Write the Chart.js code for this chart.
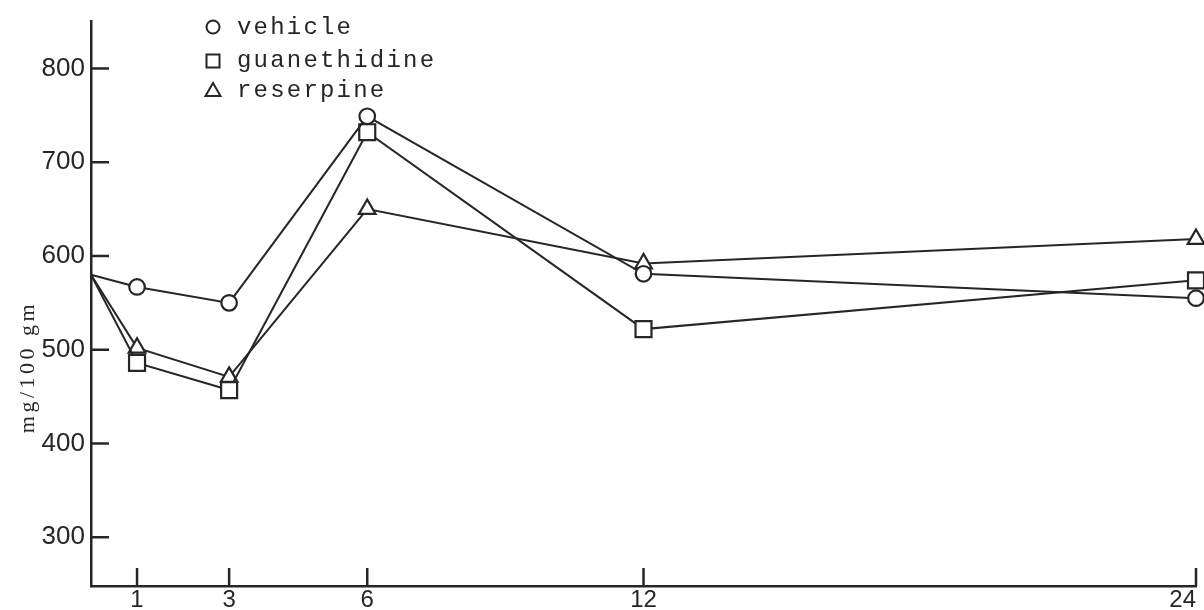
<!DOCTYPE html>
<html><head><meta charset="utf-8">
<script src="https://cdn.jsdelivr.net/npm/chart.js@4.4.1/dist/chart.umd.min.js"></script>
<style>html,body{margin:0;padding:0;background:#fff;} #wrap{width:1204px;height:610px;position:relative;}</style>
</head><body><div id="wrap"><canvas id="c" width="1204" height="610"></canvas></div>
<script>
// ---- data ----
const hours = [0, 1, 3, 6, 12, 24];
const vehicle = [580, 567, 550, 749, 581, 555];
const guanethidine = [580, 486, 457, 732, 522, 574];
const reserpine = [580, 502, 471, 650, 592, 618];
const seriesNames = ['vehicle', 'guanethidine', 'reserpine'];
const yTicks = [300, 400, 500, 600, 700, 800];
const xTicks = [0, 1, 3, 6, 12, 24];
const xTickLabels = ['', '1', '3', '6', '12', '24'];
const yTitle = 'mg/100 gm';

const INK = '#262626';
const pts = arr => hours.map((h, i) => ({x: h, y: arr[i]}));
const radii = r => hours.map((h, i) => i === 0 ? 0 : r);

function ds(label, arr, style, r) {
  return {
    label, data: pts(arr), borderColor: INK, borderWidth: 2,
    pointStyle: style, pointRadius: radii(r), pointHoverRadius: radii(r),
    pointBorderWidth: 2.2, pointBackgroundColor: '#fff', pointBorderColor: INK,
    fill: false, tension: 0, clip: false
  };
}

const decor = {
  id: 'decor',
  beforeDraw(chart) {
    const ctx = chart.ctx;
    ctx.save(); ctx.fillStyle = '#fff'; ctx.fillRect(0, 0, chart.width, chart.height); ctx.restore();
  },
  afterDraw(chart) {
    const ctx = chart.ctx, xs = chart.scales.x, ys = chart.scales.y;
    ctx.save();
    ctx.strokeStyle = INK; ctx.lineWidth = 2.5;
    // inside tick marks
    yTicks.forEach(v => {
      const py = ys.getPixelForValue(v);
      ctx.beginPath(); ctx.moveTo(xs.left, py); ctx.lineTo(xs.left + 18, py); ctx.stroke();
    });
    xTicks.forEach((v, i) => {
      if (!xTickLabels[i]) return;
      const px = xs.getPixelForValue(v);
      ctx.beginPath(); ctx.moveTo(px, ys.bottom); ctx.lineTo(px, ys.bottom - 18); ctx.stroke();
    });
    // legend
    const lx = 213, rows = [27, 61, 90], base = [34, 67, 97];
    ctx.lineWidth = 2; ctx.fillStyle = INK;
    ctx.font = '24px "Liberation Mono", monospace';
    ctx.letterSpacing = '2.2px';
    ctx.textBaseline = 'alphabetic'; ctx.textAlign = 'left';
    seriesNames.forEach((name, i) => {
      const cy = rows[i];
      ctx.beginPath();
      if (i === 0) ctx.arc(lx, cy, 6.5, 0, Math.PI * 2);
      else if (i === 1) ctx.rect(lx - 6.5, cy - 6.5, 13, 13);
      else { ctx.moveTo(lx, cy - 7); ctx.lineTo(lx + 7.5, cy + 6); ctx.lineTo(lx - 7.5, cy + 6); ctx.closePath(); }
      ctx.stroke();
      ctx.fillText(name, 237, base[i]);
    });
    // y-axis title
    ctx.font = '22px "Liberation Serif", serif';
    ctx.letterSpacing = '3.5px';
    ctx.translate(28, 367); ctx.rotate(-Math.PI / 2);
    ctx.textAlign = 'center'; ctx.textBaseline = 'middle';
    ctx.fillText(yTitle, 0, 0);
    ctx.letterSpacing = '0px';
    ctx.restore();
  }
};

new Chart(document.getElementById('c'), {
  type: 'line',
  data: { datasets: [
    ds(seriesNames[0], vehicle, 'circle', 7.8),
    ds(seriesNames[1], guanethidine, 'rect', 11.3),
    ds(seriesNames[2], reserpine, 'triangle', 9.6)
  ]},
  options: {
    responsive: false, animation: false, devicePixelRatio: 1,
    layout: { autoPadding: false, padding: { top: 16, right: 8, left: 0, bottom: 0 } },
    plugins: { legend: { display: false }, tooltip: { enabled: false } },
    scales: {
      x: {
        type: 'linear', min: 0, max: 24,
        afterBuildTicks: s => { s.ticks = xTicks.map(v => ({value: v})); },
        afterFit: s => { s.height = 24; s.paddingLeft = 0; s.paddingRight = 0; },
        grid: { display: false, drawTicks: false },
        border: { display: true, color: INK, width: 2.5 },
        ticks: { align: 'inner', padding: 0, color: INK, maxRotation: 0, autoSkip: false,
          font: { family: '"Liberation Sans", Arial, sans-serif', size: 24 },
          callback: (v) => { const i = xTicks.indexOf(v); return i >= 0 ? xTickLabels[i] : ''; } }
      },
      y: {
        type: 'linear', min: 248, max: 850,
        afterBuildTicks: s => { s.ticks = yTicks.map(v => ({value: v})); },
        afterFit: s => { s.width = 91; },
        grid: { display: false, drawTicks: false },
        border: { display: true, color: INK, width: 2.5 },
        ticks: { padding: 6, color: INK,
          font: { family: '"Liberation Sans", Arial, sans-serif', size: 26 } }
      }
    }
  },
  plugins: [decor]
});
</script></body></html>
